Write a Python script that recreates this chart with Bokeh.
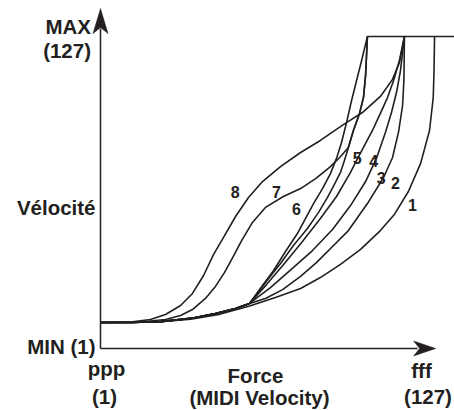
from bokeh.plotting import figure
from bokeh.models import Range1d
from bokeh.core.properties import value
from bokeh.embed import file_html
from bokeh.resources import INLINE

# ---- data (input force = MIDI velocity 1..127, output velocity 1..127) ----
vel_min = 1
vel_max = 127
axis_y_level = -10.45
axis_y_top = 139.3
axis_x_end = 127.8
max_line_x = [102.0, 136.0]

# shared lower part of curves 2-6
base_x = [1.0, 12.4, 23.7, 35.1, 44.5, 52.1, 57.4]
base_y = [1.0, 1.0, 1.4, 2.8, 5.0, 7.2, 9.4]

c1_x = [1.0, 12.4, 23.7, 35.1, 46.4, 57.4, 67.2, 76.7, 84.2, 91.8, 99.4, 106.9,
        112.2, 117.5, 122.1, 125.5, 126.9, 127.2, 127.4]
c1_y = [1.0, 1.0, 1.4, 2.5, 4.7, 8.3, 12.0, 16.0, 20.8, 26.6, 33.2, 41.5,
        48.6, 58.7, 71.0, 85.6, 100.1, 112.0, 127.0]

c2_x = [63.4, 69.9, 76.7, 82.7, 88.8, 94.8, 102.0, 108.1, 111.5, 113.8, 115.3, 115.8, 116.0]
c2_y = [11.6, 15.5, 21.3, 27.4, 34.5, 41.5, 53.4, 64.9, 73.7, 85.1, 96.6, 107.6, 127.0]

c3_x = [65.3, 73.6, 81.2, 88.8, 95.6, 101.3, 105.4, 108.8, 111.1, 113.0, 114.5, 116.0]
c3_y = [16.4, 24.8, 32.7, 42.0, 52.5, 63.1, 73.3, 84.7, 93.5, 102.3, 112.0, 127.0]

c4_x = [63.8, 70.6, 77.4, 84.2, 90.3, 95.6, 97.9, 100.5, 103.9, 106.9, 109.6, 111.9, 114.1, 116.0]
c4_y = [17.7, 27.0, 36.7, 46.8, 56.5, 67.1, 72.4, 78.1, 85.6, 93.1, 100.1, 107.6, 116.4, 127.0]

c5_x = [63.4, 69.1, 74.0, 79.3, 83.5, 86.9, 89.5, 91.8, 93.3, 94.8, 96.7, 99.0, 100.5, 101.3, 102.0]
c5_y = [18.6, 27.0, 34.9, 42.4, 49.5, 56.1, 61.8, 67.1, 72.4, 78.1, 85.6, 93.1, 100.1, 109.8, 127.0]

c6_x = [62.3, 66.5, 71.0, 75.5, 81.6, 85.0, 88.0, 90.3, 92.2, 94.1, 96.0, 97.9, 99.8, 102.0]
c6_y = [17.3, 23.9, 32.3, 40.2, 53.4, 60.0, 66.6, 73.3, 80.3, 89.1, 98.8, 107.6, 116.4, 127.0]

c7_x = [1.0, 16.1, 25.6, 31.3, 35.8, 40.7, 44.5, 47.9, 51.0, 54.4, 58.5, 63.4, 70.2,
        76.7, 82.4, 88.0, 91.5, 94.8, 96.7, 99.0, 100.5, 101.3, 102.0]
c7_y = [1.0, 1.2, 2.3, 4.1, 6.7, 11.6, 16.9, 23.0, 29.6, 37.1, 45.1, 51.7, 56.5,
        60.0, 64.4, 69.7, 73.7, 78.1, 85.6, 93.1, 100.1, 109.8, 127.0]

c8_x = [1.0, 12.4, 19.9, 25.6, 31.3, 35.8, 40.0, 43.8, 47.5, 52.1, 57.0, 62.3, 69.1,
        76.7, 84.2, 92.9, 100.1, 106.9, 111.5, 114.1, 116.0]
c8_y = [1.0, 1.2, 2.3, 4.5, 8.5, 13.8, 21.7, 31.0, 38.4, 47.7, 56.1, 63.1, 69.7,
        75.9, 81.2, 88.2, 93.5, 100.6, 108.1, 115.5, 127.0]

curve_labels = ["1", "2", "3", "4", "5", "6", "7", "8"]
label_x = [119.0, 112.6, 107.2, 104.4, 98.1, 75.1, 67.6, 52.0]
label_y = [51.9, 61.5, 63.6, 71.2, 72.8, 50.1, 57.4, 57.7]

# ---- pixel helpers (layout only) ----
SX = 126.0 / 333.0
SY = 126.0 / 286.0


def dx(px):
    return 1 + (px - 100) * SX


def dy(py):
    return 1 + (322 - py) * SY


W, H = 454, 410
p = figure(width=W, height=H, output_backend="svg", toolbar_location=None,
           x_range=Range1d(dx(0), dx(W)), y_range=Range1d(dy(H), dy(0)),
           min_border=0, x_axis_type=None, y_axis_type=None)
p.outline_line_color = None
p.grid.visible = False
p.background_fill_color = "white"
p.border_fill_color = "white"

INK = "#231f20"
LW = 1.6

curves = [
    (c1_x, c1_y),
    (base_x + c2_x, base_y + c2_y),
    (base_x + c3_x, base_y + c3_y),
    (base_x + c4_x, base_y + c4_y),
    (base_x + c5_x, base_y + c5_y),
    (base_x + c6_x, base_y + c6_y),
    (c7_x, c7_y),
    (c8_x, c8_y),
]
for xs, ys in curves:
    p.line(xs, ys, line_color=INK, line_width=LW, line_join="round")

# max plateau
p.line(max_line_x, [vel_max, vel_max], line_color=INK, line_width=LW)

# axes
p.line([vel_min, vel_min], [axis_y_level, axis_y_top - 20 * SY], line_color=INK, line_width=1.5)
p.line([vel_min, axis_x_end - 18 * SX], [axis_y_level, axis_y_level], line_color=INK, line_width=1.5)
# arrow heads (y, then x)
p.patch([vel_min, vel_min - 7.5 * SX, vel_min, vel_min + 7.5 * SX],
        [axis_y_top, axis_y_top - 25 * SY, axis_y_top - 19 * SY, axis_y_top - 25 * SY],
        fill_color=INK, line_color=INK, line_width=0.5)
p.patch([axis_x_end, axis_x_end - 22 * SX, axis_x_end - 16 * SX, axis_x_end - 22 * SX],
        [axis_y_level, axis_y_level + 7.5 * SY, axis_y_level, axis_y_level - 7.5 * SY],
        fill_color=INK, line_color=INK, line_width=0.5)

FONT = value("Liberation Sans")
BIG = "20.5px"
TS = 7  # measured baseline shift of rendered text (px)


def txt(x, py, s, align):
    p.text(x=[x], y=[dy(py - TS)], text=[s], text_align=align, text_baseline="alphabetic",
           text_font=FONT, text_font_style="bold", text_font_size=BIG, text_color=INK)


txt(dx(90.5), 33, "MAX", "right")
txt(dx(90.5), 57, "(127)", "right")
txt(dx(95), 213.5, "Vélocité", "right")
txt(dx(95), 353, "MIN (1)", "right")
txt(dx(106), 375, "ppp", "center")
txt(dx(104), 403, "(1)", "center")
txt(dx(255), 381.5, "Force", "center")
txt(dx(259), 404, "(MIDI Velocity)", "center")
txt(dx(421), 377, "fff", "center")
txt(dx(427.5), 403, "(127)", "center")

p.text(x=label_x, y=[v + 2 * SY for v in label_y], text=curve_labels,
       text_align="center", text_baseline="middle",
       text_font=FONT, text_font_style="bold",
       text_font_size="16px", text_color=INK)

open("out.html", "w").write(file_html(p, INLINE))
